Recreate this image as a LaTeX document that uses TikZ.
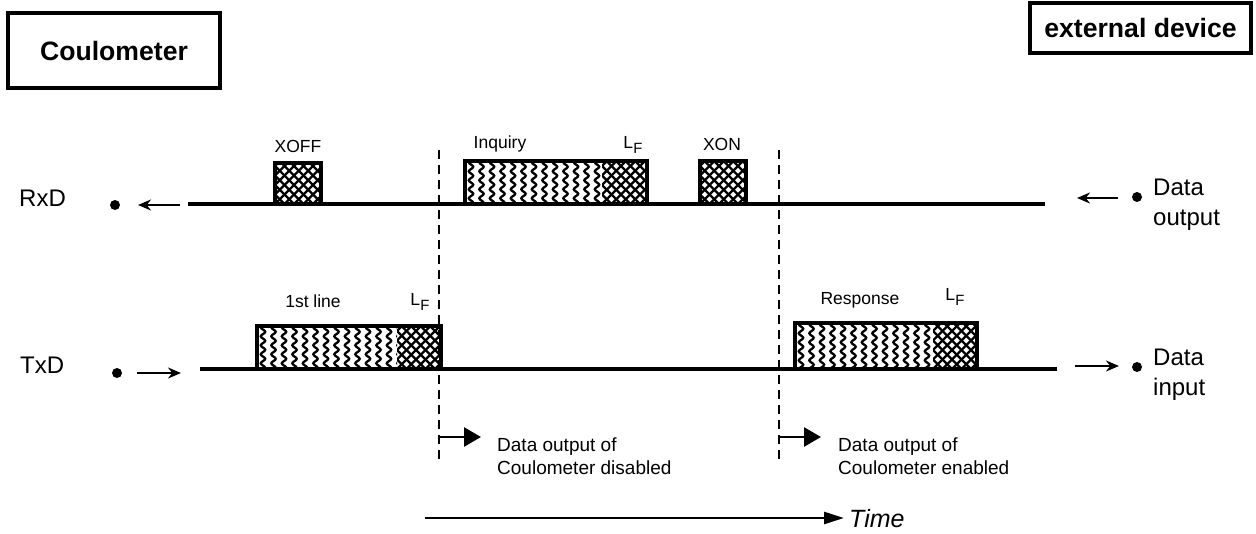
\documentclass[tikz,border=0pt]{standalone}
\usepackage{graphicx}
\usepackage{fontspec}
\setmainfont{Liberation Sans}
\usetikzlibrary{arrows.meta,decorations.pathmorphing}

% subscripted line-feed symbol
\newcommand{\LFsym}{L\kern0.3pt\raisebox{-0.45ex}{\scalebox{0.85}{F}}}

% wavy data filling: #1,#2 = top-left corner, #3,#4 = bottom-right corner
\newcommand{\wavefill}[4]{%
  \begin{scope}
    \clip (#1,#2) rectangle (#3,#4);
    \foreach \k in {0,...,20}{
      \draw[line width=2.3pt, decorate,
            decoration={snake, amplitude=2.2pt, segment length=9pt}]
        ({#1+6+\k*10.5},{#2-6}) -- ({#1+6+\k*10.5},{#4+6});
    }
  \end{scope}}

% cross-hatched control character filling
\newcommand{\hatchfill}[4]{%
  \begin{scope}
    \clip (#1,#2) rectangle (#3,#4);
    \foreach \k in {-8,...,14}{
      \draw[line width=2.3pt] ({#1+\k*9.5},{#4}) -- ++(70,-70);
      \draw[line width=2.3pt] ({#1+\k*9.5},{#4}) -- ++(-70,-70);
    }
  \end{scope}}

\tikzset{
  titlebox/.style={draw, line width=4pt, inner sep=0pt,
                   font=\fontsize{26.6}{30}\selectfont\bfseries},
  siglbl/.style={inner sep=0pt, font=\fontsize{24}{30}\selectfont},
  sidelbl/.style={inner sep=0pt, align=left, anchor=base west,
                  font=\fontsize{24}{30}\selectfont},
  fieldlbl/.style={inner sep=0pt, anchor=base,
                   font=\fontsize{17.5}{20}\selectfont},
  notelbl/.style={inner sep=0pt, anchor=base west,
                  font=\fontsize{19}{23}\selectfont},
  pin/.style={circle, fill=black, minimum size=10pt, inner sep=0pt},
  sigline/.style={line width=4pt},
  frameline/.style={line width=4.5pt},
  cutline/.style={line width=2.6pt, dash pattern=on 9pt off 6pt},
  dirarrow/.style={line width=2pt, -{Stealth[length=13pt,width=11pt]}},
  switcharrow/.style={line width=2.6pt, -{Triangle[length=17pt,width=19pt]}},
  timearrow/.style={line width=2.6pt, -{Triangle[length=20pt,width=12pt]}},
}

\begin{document}
\begin{tikzpicture}[x=1pt,y=-1pt]
\useasboundingbox (0,0) rectangle (1256,534);

% device boxes
\node[titlebox, minimum width=212pt, minimum height=75pt] (coul) at (114,50.5) {Coulometer};
\node[titlebox, minimum width=221pt, minimum height=50pt] (ext) at (1140.5,28) {external device};

% signal names (the base anchor of a two-line label is its last line)
\node[siglbl, anchor=base west] (rxd) at (19,207) {RxD};
\node[siglbl, anchor=base west] (txd) at (20,374) {TxD};
\node[sidelbl] (dout) at (1153,226) {Data\\output};
\node[sidelbl] (din) at (1153,396) {Data\\input};

% pins
\node[pin] (rxpin) at (115,205) {};
\node[pin] (txpin) at (117,373) {};
\node[pin] (outpin) at (1137,197) {};
\node[pin] (inpin) at (1137,367) {};

% direction arrows
\coordinate (rxa) at (180,205);
\coordinate (rxb) at (138,205);
\draw[dirarrow] (rxa) -- (rxb);
\coordinate (txa) at (137,373);
\coordinate (txb) at (181,373);
\draw[dirarrow] (txa) -- (txb);
\coordinate (oua) at (1118,198);
\coordinate (oub) at (1077,198);
\draw[dirarrow] (oua) -- (oub);
\coordinate (ina) at (1075,366);
\coordinate (inb) at (1119,366);
\draw[dirarrow] (ina) -- (inb);

% ---- RxD line and its characters
\hatchfill{275}{163}{321}{204}
\wavefill{465}{161}{602}{204}
\hatchfill{602}{161}{647}{204}
\hatchfill{700}{161}{746}{204}
\draw[frameline] (275,204) |- (321,163) -- (321,204);
\draw[frameline] (465,204) |- (647,161) -- (647,204);
\draw[frameline] (700,204) |- (746,161) -- (746,204);
\coordinate (rxs) at (188,204);
\coordinate (rxe) at (1045,204);
\draw[sigline] (rxs) -- (rxe);

\node[fieldlbl] (xoff) at (298,153) {XOFF};
\node[fieldlbl] (inq) at (500,149) {Inquiry};
\node[fieldlbl] (lf1) at (633,149) {\LFsym};
\node[fieldlbl] (xon) at (722,151) {XON};

% ---- TxD line and its characters
\wavefill{257}{326}{397}{369}
\hatchfill{397}{326}{441}{369}
\wavefill{795}{323}{933}{369}
\hatchfill{933}{323}{977}{369}
\draw[frameline] (257,369) |- (441,326) -- (441,369);
\draw[frameline] (795,369) |- (977,323) -- (977,369);
\coordinate (txs) at (200,369);
\coordinate (txe) at (1057,369);
\draw[sigline] (txs) -- (txe);

\node[fieldlbl] (first) at (313,308) {1st line};
\node[fieldlbl] (lf2) at (420,306) {\LFsym};
\node[fieldlbl] (resp) at (860,305) {Response};
\node[fieldlbl] (lf3) at (955,301) {\LFsym};

% ---- switching instants
\coordinate (c1t) at (439,150);
\coordinate (c1b) at (439,460);
\coordinate (c2t) at (779,150);
\coordinate (c2b) at (779,460);
\draw[cutline] (c1t) -- (c1b);
\draw[cutline] (c2t) -- (c2b);

\coordinate (s1a) at (439,437);
\coordinate (s1b) at (481,437);
\draw[switcharrow] (s1a) -- (s1b);
\coordinate (s2a) at (779,437);
\coordinate (s2b) at (821,437);
\draw[switcharrow] (s2a) -- (s2b);

\node[notelbl, align=left] (dis) at (497,475) {Data output of\\Coulometer disabled};
\node[notelbl, align=left] (ena) at (838,475) {Data output of\\Coulometer enabled};

% ---- time axis
\coordinate (t0) at (425,518);
\coordinate (t1) at (844,518);
\draw[timearrow] (t0) -- (t1);
\node[inner sep=0pt, anchor=base west, font=\fontsize{25}{28}\selectfont\itshape]
  (time) at (849,527) {Time};
\end{tikzpicture}
\end{document}
